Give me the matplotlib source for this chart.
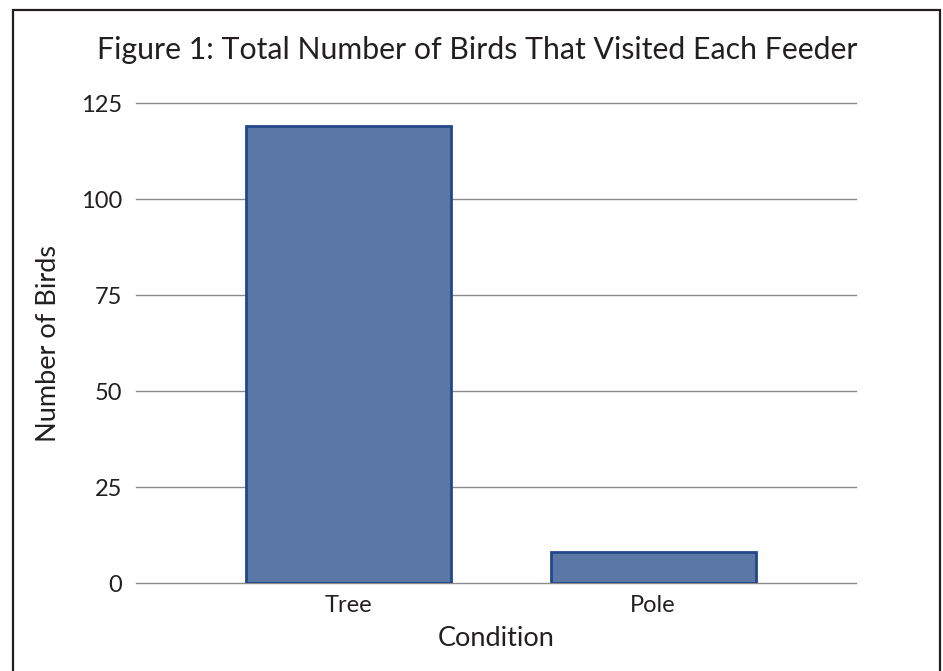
import matplotlib
matplotlib.use('Agg')
import matplotlib.pyplot as plt
from matplotlib.patches import Rectangle

# Data
conditions = ['Tree', 'Pole']
birds = [119, 8]
y_ticks = [0, 25, 50, 75, 100, 125]

plt.rcParams['font.family'] = ['Lato', 'DejaVu Sans']

W, H = 943, 671
fig = plt.figure(figsize=(W / 100, H / 100), dpi=100)

# outer frame
fig.patches.append(Rectangle((13 / W, -0.05), 927 / W, 1.05 - 10 / H,
                             transform=fig.transFigure, fill=False,
                             edgecolor='#231f20', linewidth=1.6))

ax = fig.add_axes([136 / W, 1 - 583 / H, 720 / W, 480 / H])
x = range(len(conditions))
ax.bar(x, birds, width=0.674, color='#5b77a6', edgecolor='#24478a',
       linewidth=2, zorder=3)

ax.set_ylim(0, 125)
ax.set_xlim(-0.70, 1.667)
ax.set_yticks(y_ticks)
ax.set_xticks(list(x))
ax.set_xticklabels(conditions)
ax.grid(axis='y', color='#8a8a8a', linewidth=1, zorder=0)
for gl in ax.get_ygridlines():
    gl.set_clip_on(False)
ax.tick_params(length=0, labelsize=17, colors='#231f20', pad=10)
ax.tick_params(axis='x', pad=9)
for s in ax.spines.values():
    s.set_visible(False)

ax.set_ylabel('Number of Birds', fontsize=19.5, color='#231f20', labelpad=14)
ax.set_xlabel('Condition', fontsize=19.5, color='#231f20', labelpad=7)
fig.text(477 / W, 1 - 50 / H, 'Figure 1: Total Number of Birds That Visited Each Feeder',
         ha='center', va='center', fontsize=21.8, color='#231f20')

fig.savefig('out.png', dpi=100)
